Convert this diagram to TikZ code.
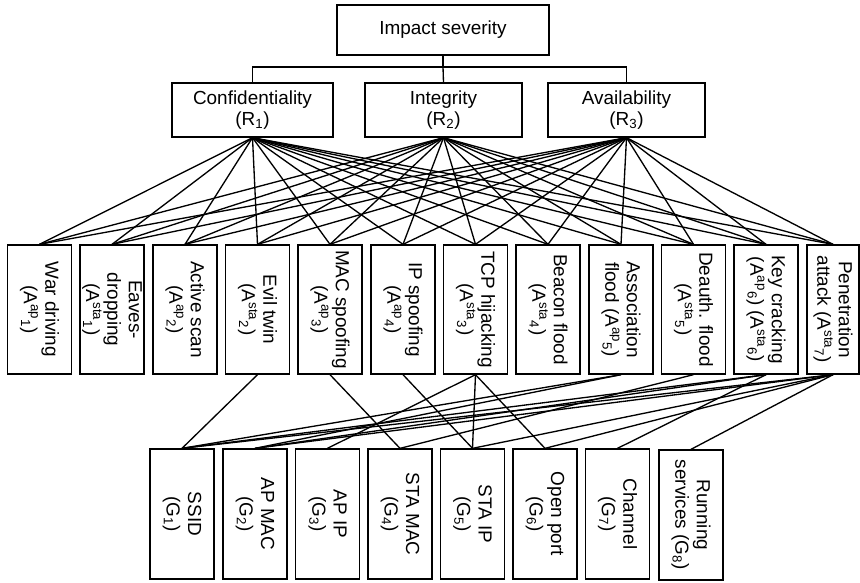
\documentclass[tikz,border=0pt]{standalone}
\usepackage{fontspec}
\setmainfont{Liberation Sans}
\usetikzlibrary{calc}

\newcommand{\atk}[2]{A\textsuperscript{#1}\textsubscript{#2}}

\begin{document}
\begin{tikzpicture}[x=0.75pt,y=-0.75pt,
      box/.style={
            draw, line width=1pt, align=center,
            inner sep=2pt, text=black,
            font=\fontsize{14.2}{16}\selectfont
        },
      crit/.style={
            box, minimum height=40.5pt, minimum width=117.75pt
        },
      attack/.style={
            box, rotate=-90, inner sep=0pt,
            minimum width=96.75pt, minimum height=48pt
        },
      asset/.style={
            box, rotate=-90, inner sep=0pt,
            minimum width=97.5pt, minimum height=48pt
        },
      link/.style={line width=1pt}
      ]
    \useasboundingbox (0,0) rectangle (860,582);

    \node[box, minimum width=159pt, minimum height=37.5pt] (top) at (443,30) {Impact severity};
    \node[crit, minimum width=120.75pt] (R1) at (252.5,110) {Confidentiality\\(R\textsubscript{1})};
    \node[crit] (R2) at (443.5,110) {Integrity\\(R\textsubscript{2})};
    \node[crit] (R3) at (626.5,110) {Availability\\(R\textsubscript{3})};

    \node[attack] (A1) at (39.5,309.5) {War driving\\(\atk{ap}{1})};
    \node[attack] (A2) at (112,309.5) {Eaves-\\dropping\\(\atk{sta}{1})};
    \node[attack] (A3) at (185,309.5) {Active scan\\(\atk{ap}{2})};
    \node[attack] (A4) at (257.5,309.5) {Evil twin\\(\atk{sta}{2})};
    \node[attack] (A5) at (330,309.5) {MAC spoofing\\(\atk{ap}{3})};
    \node[attack] (A6) at (403,309.5) {IP spoofing\\(\atk{ap}{4})};
    \node[attack] (A7) at (475.5,309.5) {TCP hijacking\\(\atk{sta}{3})};
    \node[attack] (A8) at (548,309.5) {Beacon flood\\(\atk{sta}{4})};
    \node[attack] (A9) at (621,309.5) {Association\\flood (\atk{ap}{5})};
    \node[attack] (A10) at (693.5,309.5) {Deauth. flood\\(\atk{sta}{5})};
    \node[attack] (A11) at (766,309.5) {Key cracking\\(\atk{ap}{6}) (\atk{sta}{6})};
    \node[attack, minimum height=39pt] (A12) at (833,309.5) {Penetration\\attack (\atk{sta}{7})};

    \node[asset] (G1) at (182,514) {SSID\\(G\textsubscript{1})};
    \node[asset] (G2) at (255,514) {AP MAC\\(G\textsubscript{2})};
    \node[asset] (G3) at (327.5,514) {AP IP\\(G\textsubscript{3})};
    \node[asset] (G4) at (400,514) {STA MAC\\(G\textsubscript{4})};
    \node[asset] (G5) at (472.5,514) {STA IP\\(G\textsubscript{5})};
    \node[asset] (G6) at (545,514) {Open port\\(G\textsubscript{6})};
    \node[asset] (G7) at (617.5,514) {Channel\\(G\textsubscript{7})};
    \node[asset] (G8) at (691,515) {Running\\services (G\textsubscript{8})};

    % tree on top
    \coordinate (bus) at (443,67);
    \draw[link] (top.south) -- (bus);
    \draw[link] (R1.north) |- (bus) -| (R3.north);
    \draw[link] (bus) -- (R2.north);

    % every criterion to every attack
    \foreach \r in {1,2,3}
      \foreach \a in {1,...,12}
        \draw[link] (R\r.south) -- (A\a.west);

    % attacks to the information they need
    \foreach \a/\g in {4/1, 5/4, 6/5, 7/3, 7/5, 7/6, 9/1, 9/2, 10/4,
                       11/1, 11/2, 11/7, 12/1, 12/2, 12/5, 12/6, 12/8}
      \draw[link] (A\a.east) -- (G\g.west);
  \end{tikzpicture}
\end{document}
